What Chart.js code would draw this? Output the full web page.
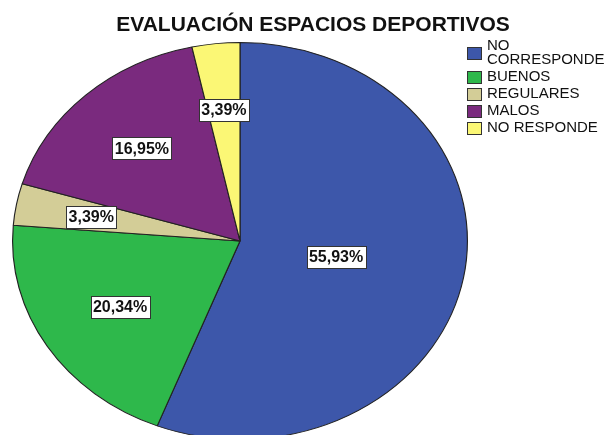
<!DOCTYPE html>
<html>
<head>
<meta charset="utf-8">
<script src="https://cdn.jsdelivr.net/npm/chart.js@4/dist/chart.umd.min.js"></script>
<style>
  body { margin: 0; background: #fff; overflow: hidden; }
  #wrap { width: 611px; height: 435px; overflow: hidden; }
</style>
</head>
<body>
<div id="wrap"><canvas id="pie" width="611" height="460"></canvas></div>
<script>
// Datos del gráfico
const chartTitle = 'EVALUACIÓN ESPACIOS DEPORTIVOS';
const categories = ['NO CORRESPONDE', 'BUENOS', 'REGULARES', 'MALOS', 'NO RESPONDE'];
const percentages = [55.93, 20.34, 3.39, 16.95, 3.39];
const sliceColors = ['#3d57aa', '#2eb84b', '#d3cd97', '#7a2a7e', '#fbf775'];

// el gráfico original es una elipse, estiramos en horizontal
const stretchX = 228 / 199;

function formatPct(v) {
  return v.toFixed(2).replace('.', ',') + '%';
}

// estirar el pastel alrededor de su centro
const stretchPlugin = {
  id: 'stretch',
  beforeDatasetsDraw(chart) {
    const arc = chart.getDatasetMeta(0).data[0];
    const ctx = chart.ctx;
    ctx.save();
    ctx.translate(arc.x, arc.y);
    ctx.scale(stretchX, 1);
    ctx.translate(-arc.x, -arc.y);
  },
  afterDatasetsDraw(chart) {
    chart.ctx.restore();
  }
};

// etiquetas con caja blanca dentro de cada sector
const labelPlugin = {
  id: 'sliceLabels',
  afterDatasetsDraw(chart) {
    const ctx = chart.ctx;
    const meta = chart.getDatasetMeta(0);
    ctx.save();
    ctx.font = 'bold 16px "Liberation Sans", Arial, sans-serif';
    ctx.textAlign = 'center';
    ctx.textBaseline = 'middle';
    meta.data.forEach((arc, i) => {
      const span = arc.endAngle - arc.startAngle;
      const mid = (arc.startAngle + arc.endAngle) / 2;
      // centroide del sector (no muy cerca del centro)
      const f = Math.max(4 * Math.sin(span / 2) / (3 * span), 0.43);
      const x = arc.x + Math.cos(mid) * arc.outerRadius * f * stretchX;
      const y = arc.y + Math.sin(mid) * arc.outerRadius * f;
      const text = formatPct(percentages[i]);
      const w = Math.round(ctx.measureText(text).width + 5);
      const h = 22;
      const bx = Math.round(x - w / 2) + 0.5;
      const by = Math.round(y - h / 2) + 0.5;
      ctx.fillStyle = '#fff';
      ctx.fillRect(bx, by, w, h);
      ctx.strokeStyle = '#333';
      ctx.lineWidth = 1;
      ctx.strokeRect(bx, by, w, h);
      ctx.fillStyle = '#111';
      ctx.fillText(text, x, y + 1);
    });
    ctx.restore();
  }
};

// título y leyenda a la derecha
const decorPlugin = {
  id: 'decor',
  afterDraw(chart) {
    const ctx = chart.ctx;
    ctx.save();
    ctx.fillStyle = '#111';
    ctx.font = 'bold 21px "Liberation Sans", Arial, sans-serif';
    ctx.textAlign = 'center';
    ctx.textBaseline = 'alphabetic';
    ctx.fillText(chartTitle, 313, 31);

    ctx.font = '15px "Liberation Sans", Arial, sans-serif';
    ctx.textAlign = 'left';
    ctx.textBaseline = 'middle';
    const textX = 487;
    const maxW = 611 - textX - 2;
    let y = 46;
    categories.forEach((label, i) => {
      // partir la etiqueta si no cabe
      const lines = [];
      let cur = '';
      label.split(' ').forEach(word => {
        const test = cur ? cur + ' ' + word : word;
        if (cur && ctx.measureText(test).width > maxW) {
          lines.push(cur);
          cur = word;
        } else {
          cur = test;
        }
      });
      lines.push(cur);
      const blockMid = y + (lines.length - 1) * 14 / 2;
      ctx.fillStyle = sliceColors[i];
      ctx.fillRect(467.5, Math.round(blockMid - 6) + 0.5, 14, 12);
      ctx.strokeStyle = '#333';
      ctx.strokeRect(467.5, Math.round(blockMid - 6) + 0.5, 14, 12);
      ctx.fillStyle = '#111';
      lines.forEach((ln, k) => ctx.fillText(ln, textX, y + k * 14));
      y += (lines.length - 1) * 14 + 17;
    });
    ctx.restore();
  }
};

const pieCtx = document.getElementById('pie').getContext('2d');
const pieChart = new Chart(pieCtx, {
  type: 'pie',
  data: {
    labels: categories,
    datasets: [{
      data: percentages,
      backgroundColor: sliceColors,
      borderColor: '#222',
      borderWidth: 1,
    }],
  },
  options: {
    responsive: false,
    animation: false,
    devicePixelRatio: 1,
    layout: { padding: { left: 41, right: 172, top: 42, bottom: 20 } },
    plugins: {
      legend: { display: false },
      title: { display: false },
      tooltip: { enabled: false },
    },
  },
  plugins: [stretchPlugin, labelPlugin, decorPlugin],
});
</script>
</body>
</html>
